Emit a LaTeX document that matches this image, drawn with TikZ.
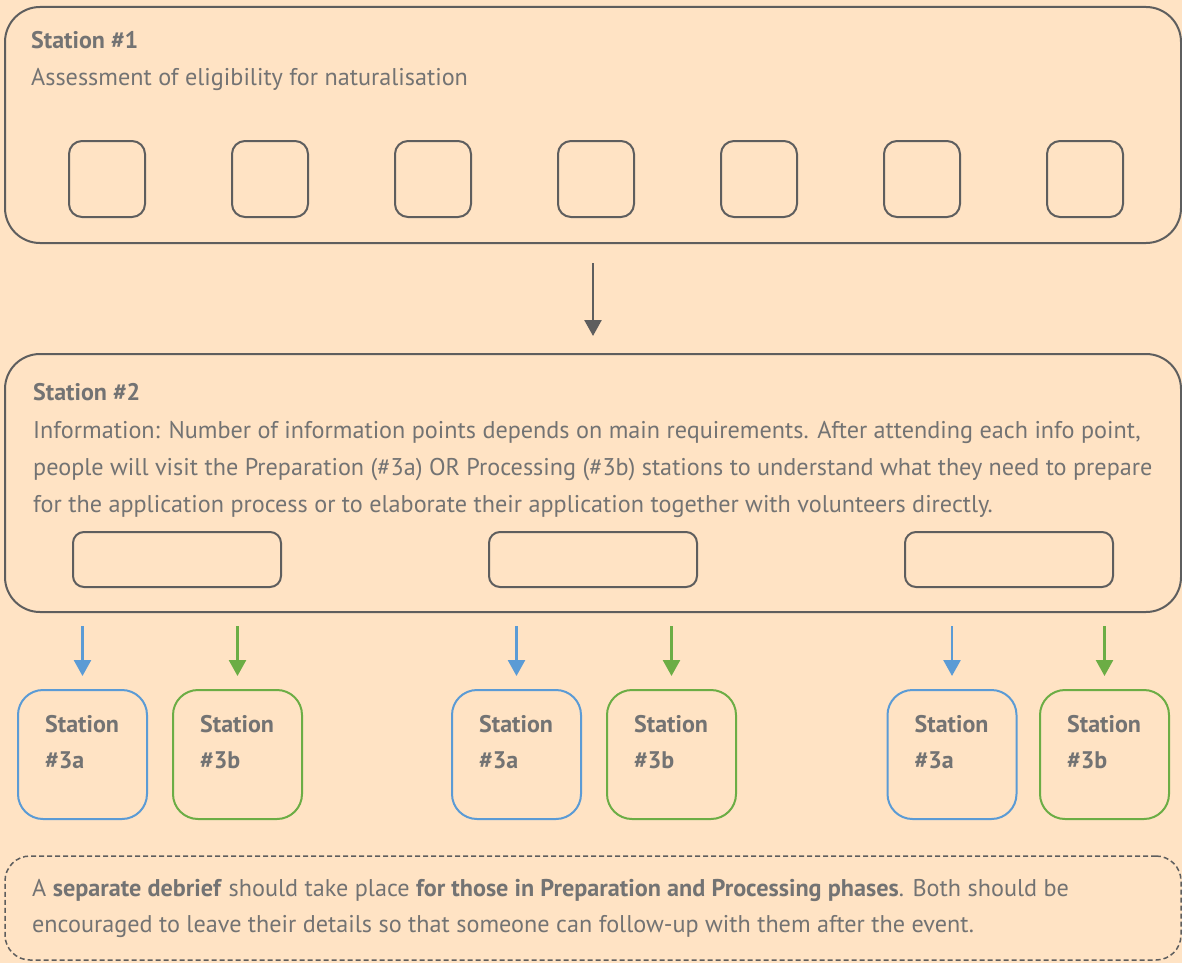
\documentclass[tikz,border=0pt]{standalone}
\usepackage{fontspec}
\setmainfont{PT Sans}
\usetikzlibrary{arrows.meta}

\definecolor{pagebg}{HTML}{FFE3C4}
\definecolor{linegray}{HTML}{5E5E5E}
\definecolor{textgray}{HTML}{737373}
\definecolor{prepblue}{HTML}{5B9BD5}
\definecolor{procgreen}{HTML}{6CAD45}

\tikzset{
  stationbox/.style={draw=linegray, line width=2pt, rounded corners=35pt, inner sep=0pt},
  slotbox/.style={draw=linegray, line width=2pt, rounded corners=13pt, minimum width=76pt, minimum height=76pt, inner sep=0pt},
  infobox/.style={draw=linegray, line width=2pt, rounded corners=11pt, minimum width=208pt, minimum height=55pt, inner sep=0pt},
  subbox/.style={draw=#1, line width=2pt, rounded corners=25pt, minimum width=129pt, minimum height=129pt, inner sep=0pt},
  notebox/.style={draw=linegray, line width=1.5pt, dash pattern=on 5pt off 3pt, rounded corners=25pt, inner sep=0pt},
  headtxt/.style={text=textgray, font=\fontsize{24}{37}\selectfont\bfseries, anchor=base west, inner sep=0pt},
  bodytxt/.style={text=textgray, font=\fontsize{24.2}{37}\selectfont, anchor=base west, inner sep=0pt},
  flow/.style={draw=#1, line width=2.5pt, -{Triangle[width=17pt,length=16pt]}},
}

\begin{document}
\begin{tikzpicture}[x=1pt, y=-1pt]
  \path[use as bounding box, fill=pagebg] (0,0) rectangle (1182,963);

  % Station 1
  \node[stationbox, minimum width=1176pt, minimum height=236pt] (st1) at (593,125) {};
  \node[headtxt] (st1head) at (31,49) {Station \#1};
  \node[bodytxt] (st1body) at (31,86) {Assessment of eligibility for naturalisation};
  \foreach \i in {0,...,6}
    \node[slotbox] (slot\i) at (107+163*\i,179) {};

  % Station 2
  \node[stationbox, minimum width=1176pt, minimum height=258pt] (st2) at (593,483) {};
  \node[headtxt] (st2head) at (33,400) {Station \#2};
  \node[bodytxt] (st2a) at (33,438) {Information: Number of information points depends on main requirements. After attending each info point,};
  \node[bodytxt] (st2b) at (33,475) {people will visit the Preparation (\#3a) OR Processing (\#3b) stations to understand what they need to prepare};
  \node[bodytxt] (st2c) at (33,512) {for the application process or to elaborate their application together with volunteers directly.};
  \node[infobox] (info1) at (177,559.5) {};
  \node[infobox] (info2) at (593,559.5) {};
  \node[infobox] (info3) at (1009,559.5) {};

  \draw[flow=linegray, shorten <=19pt, shorten >=17pt] (st1.south) -- (st2.north);

  % Stations 3a / 3b
  \foreach \n/\x/\c/\s in {a1/82.5/prepblue/a, b1/237.5/procgreen/b, a2/516.5/prepblue/a, b2/671.5/procgreen/b, a3/952/prepblue/a, b3/1104.5/procgreen/b} {
    \node[subbox=\c] (s3\n) at (\x,754.5) {};
    \node[headtxt] (s3\n top) at (\x-37.5,732) {Station};
    \node[headtxt] (s3\n bot) at (\x-37.5,768) {\#3\s};
    \draw[flow=\c, shorten <=13pt, shorten >=13pt] (s3\n.north |- st2.south) -- (s3\n.north);
  }

  % Debrief note
  \node[notebox, minimum width=1176pt, minimum height=104pt] (note) at (593,908) {};
  \node[bodytxt] (note1) at (32,896) {A \textbf{separate debrief} should take place \textbf{for those in Preparation and Processing phases}. Both should be};
  \node[bodytxt] (note2) at (32,932) {encouraged to leave their details so that someone can follow-up with them after the event.};
\end{tikzpicture}
\end{document}
